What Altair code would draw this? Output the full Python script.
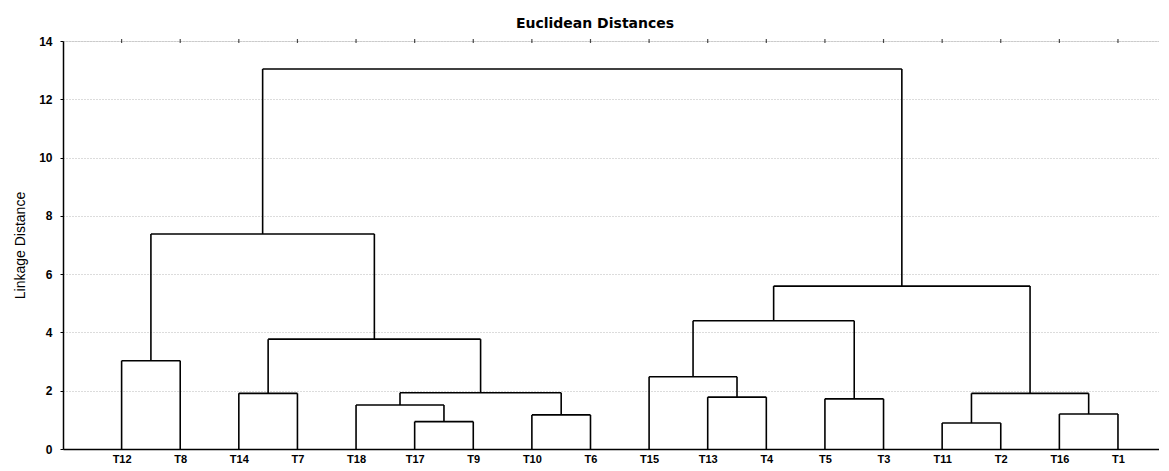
import altair as alt
import pandas as pd

# Leaf order (left to right) as drawn in the dendrogram
leaves = ["T12", "T8", "T14", "T7", "T18", "T17", "T9", "T10", "T6",
          "T15", "T13", "T4", "T5", "T3", "T11", "T2", "T16", "T1"]

# Agglomeration steps: cluster Ck is formed at step k (1-based)
merge_left = ["T17", "T18", "T10", "C2", "T14", "C5", "T12", "C7",
              "T13", "T15", "T5", "C10", "T11", "T16", "C13", "C12", "C8"]
merge_right = ["T9", "C1", "T6", "C3", "T7", "C4", "T8", "C6",
               "T4", "C9", "T3", "C11", "T2", "T1", "C14", "C15", "C16"]
merge_height = [0.94, 1.51, 1.17, 1.93, 1.91, 3.77, 3.03, 7.38,
                1.78, 2.48, 1.72, 4.40, 0.89, 1.20, 1.91, 5.59, 13.04]

y_ticks = [0, 2, 4, 6, 8, 10, 12, 14]
title_text = "Euclidean Distances"

# Build the link segments from the linkage table
pos = {name: i + 1 for i, name in enumerate(leaves)}
hgt = {name: 0.0 for name in leaves}
rows = []
for k, (l, r, h) in enumerate(zip(merge_left, merge_right, merge_height)):
    xl, xr = pos[l], pos[r]
    rows.append({"x": xl, "x2": xl, "y": hgt[l], "y2": h})
    rows.append({"x": xr, "x2": xr, "y": hgt[r], "y2": h})
    rows.append({"x": xl, "x2": xr, "y": h, "y2": h})
    cid = f"C{k + 1}"
    pos[cid] = (xl + xr) / 2
    hgt[cid] = h
links = pd.DataFrame(rows)
leaf_df = pd.DataFrame({"x": [pos[n] for n in leaves], "y": [max(y_ticks)] * len(leaves)})

label_expr = "[" + ",".join(f"'{n}'" for n in leaves) + "][datum.value - 1]"

x_scale = alt.Scale(domain=[0, 18.7], nice=False, zero=False)
y_scale = alt.Scale(domain=[0, 14], nice=False)

base_font = "Liberation Sans"

link_layer = alt.Chart(links).mark_rule(color="#000000", strokeWidth=1.6).encode(
    x=alt.X("x:Q", scale=x_scale,
            axis=alt.Axis(values=list(range(1, len(leaves) + 1)), labelExpr=label_expr,
                          title=None, grid=False, ticks=False, labelPadding=4,
                          labelFont=base_font, labelFontSize=11, labelFontWeight="bold",
                          labelColor="#000000", domainColor="#000000", domainWidth=1.5)),
    x2="x2:Q",
    y=alt.Y("y:Q", scale=y_scale,
            axis=alt.Axis(values=y_ticks, title="Linkage Distance", grid=True,
                          gridColor="#b8b8b8", gridDash=[1, 2], gridWidth=1,
                          tickSize=3, tickColor="#000000", labelPadding=8,
                          labelFont=base_font, labelFontSize=12, labelFontWeight="bold",
                          labelColor="#000000", domainColor="#000000", domainWidth=1.5,
                          titleFont=base_font, titleFontSize=14, titleFontWeight="normal",
                          titleColor="#000000", titleX=-43, titleY=204,
                          titleAlign="center", titleBaseline="middle")),
    y2="y2:Q",
)

top_ticks = alt.Chart(leaf_df).mark_tick(color="#000000", orient="vertical",
                                          size=4, thickness=1.2).encode(
    x=alt.X("x:Q", scale=x_scale),
    y=alt.Y("y:Q", scale=y_scale),
)

title_layer = alt.Chart(pd.DataFrame({"t": [title_text]})).mark_text(
    font="DejaVu Sans", fontSize=14, fontWeight="bold", color="#000000",
    align="center", baseline="alphabetic",
).encode(x=alt.value(532), y=alt.value(-13), text="t:N")

chart = alt.layer(link_layer, top_ticks, title_layer).properties(
    width=1096,
    height=408,
    autosize=alt.AutoSizeParams(type="none"),
    padding={"left": 55, "top": 33, "right": 0, "bottom": 14},
).configure_view(strokeWidth=0).configure(background="#ffffff")

chart.save("out.html", embed_options={"renderer": "svg", "actions": False})
